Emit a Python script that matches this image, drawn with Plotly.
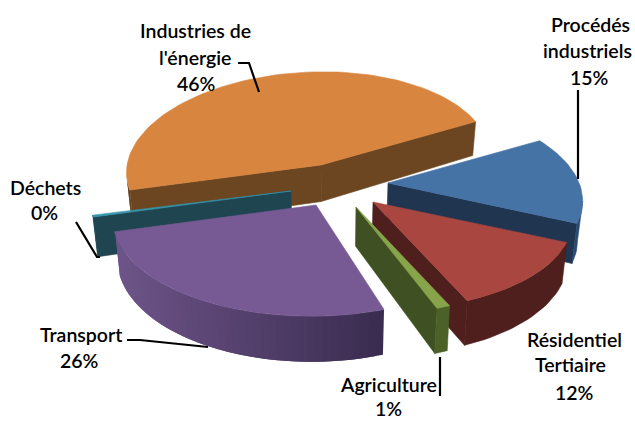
import math
import plotly.graph_objects as go

# ---- data ----
categories = ["Industries de l'énergie", "Procédés industriels", "Résidentiel Tertiaire",
              "Agriculture", "Transport", "Déchets"]
shares = [45.8, 15.0, 12.2, 1.0, 25.7, 0.3]
percent_labels = ["46%", "15%", "12%", "1%", "26%", "0%"]

# ---- style / layout ----
FIRST_ANGLE = 194.6
apex = [(321, 165), (388, 183), (373, 202), (356, 207), (316, 205), (291, 191)]
top_col = ["#D8853F", "#4673A6", "#A8463F", "#87A44A", "#775A94", "#3596AD"]
cut_col = ["#6B4620", "#1F3550", "#4E1F1C", "#3F5123", "#3A2C50", "#1F4550"]
wall_l = ["#5C3A1B", "#2B4A73", "#4E1F1C", "#4B6128", "#6E5589", "#1F4550"]
wall_r = ["#6B4620", "#2B4A73", "#4E1F1C", "#4B6128", "#3A2C50", "#1F4550"]
draw_order = [0, 5, 1, 2, 3, 4]
# perspective of each slice: A, B, C, D, G, H
shared = (197.5, -9.5, 0.5, -93.1, 0.014, 0.137)
persp = [
    (180.3, 15.0, 0.1, -93.0, 0.07, 0.0),
    (194.0, -9.5, 0.5, -93.1, 0.014, 0.137),
    (199.0, -9.5, 0.5, -93.1, 0.014, 0.137),
    shared,
    (198.0, 2.5, 0.5, -96.0, 0.014, 0.137),
    shared,
]


def project(deg, o, h):
    a, b, c_, d, g, k = h
    c, s = math.cos(math.radians(deg)), math.sin(math.radians(deg))
    w = 1 + g * c + k * s
    return (o[0] + (a * c + b * s) / w, o[1] + (c_ * c + d * s) / w)


def drop(p):
    x, y = p
    return (x + (330 - x) * 0.02, y + 34 + (y - 123) * 0.06)


def mix(c1, c2, t):
    a = [int(c1[i:i + 2], 16) for i in (1, 3, 5)]
    b = [int(c2[i:i + 2], 16) for i in (1, 3, 5)]
    return "rgb(%d,%d,%d)" % tuple(round(a[i] + (b[i] - a[i]) * t) for i in range(3))


def poly(fig, pts, col, lw=0.6):
    xs = [p[0] for p in pts] + [pts[0][0]]
    ys = [p[1] for p in pts] + [pts[0][1]]
    fig.add_trace(go.Scatter(x=xs, y=ys, mode="lines", fill="toself", fillcolor=col,
                             line=dict(color=col, width=lw), hoverinfo="skip", showlegend=False))


total = sum(shares)
starts = []
ang = FIRST_ANGLE
for v in shares:
    starts.append(ang)
    ang -= v / total * 360

fig = go.Figure()
for i in draw_order:
    a0 = starts[i]
    a1 = a0 - shares[i] / total * 360
    n = max(2, int(abs(a0 - a1) / 2) + 1)
    arc = [project(a0 + (a1 - a0) * k / n, apex[i], persp[i]) for k in range(n + 1)]
    o = apex[i]
    for p, q in ((o, arc[0]), (arc[-1], o)):
        if (q[0] - p[0]) < 0:
            poly(fig, [p, q, drop(q), drop(p)], cut_col[i])
    front = [k for k in range(n) if arc[k + 1][0] < arc[k][0]]
    if front:
        if wall_l[i] == wall_r[i]:
            run = [arc[k] for k in front] + [arc[front[-1] + 1]]
            poly(fig, run + [drop(p) for p in reversed(run)], wall_l[i])
        else:
            xmin = min(arc[k + 1][0] for k in front)
            xmax = max(arc[k][0] for k in front)
            for pos, k in enumerate(front):
                end = front[min(pos + 2, len(front) - 1)] + 1
                run = arc[k:end]
                t = (arc[k][0] - xmin) / max(1, xmax - xmin)
                poly(fig, run + [drop(p) for p in reversed(run)], mix(wall_l[i], wall_r[i], t), 0)
    poly(fig, [o] + arc, top_col[i])

leaders = [
    [(238, 63), (249, 63), (259, 92)],
    [(578, 90), (578, 179)],
    [(76, 222), (97, 257), (100, 257)],
    [(127, 340), (140, 340), (208, 347)],
    [(440, 357), (440, 396)],
]
for seg in leaders:
    fig.add_trace(go.Scatter(x=[p[0] for p in seg], y=[p[1] for p in seg], mode="lines",
                             line=dict(color="#000000", width=2.2), hoverinfo="skip", showlegend=False))

label_lines = [
    (["Industries de", "l'énergie", percent_labels[0]], [195, 195, 196], [30, 57, 83]),
    (["Procédés", "industriels", percent_labels[1]], [590, 587, 589], [24, 50, 77]),
    (["Résidentiel", "Tertiaire", percent_labels[2]], [574, 570, 574], [339, 364, 392]),
    (["Agriculture", percent_labels[3]], [388, 388], [384, 408.5]),
    (["Transport", percent_labels[4]], [81, 79], [334, 360]),
    (["Déchets", percent_labels[5]], [45, 44], [187, 212]),
]
anns = []
for lines, xs, ys in label_lines:
    for t, x, y in zip(lines, xs, ys):
        anns.append(dict(x=x, y=y, text=t, showarrow=False, xanchor="center", yanchor="middle",
                         font=dict(family="Lato", size=19.5, color="#000000", weight=600)))

fig.update_layout(
    width=635, height=421, margin=dict(l=0, r=0, t=0, b=0),
    paper_bgcolor="white", plot_bgcolor="white", showlegend=False, annotations=anns,
    xaxis=dict(range=[0, 635], visible=False, fixedrange=True),
    yaxis=dict(range=[421, 0], visible=False, fixedrange=True),
)
fig.write_html("out.html", config={"displayModeBar": False},
               post_script="document.body.style.margin='0';document.documentElement.style.overflow='hidden';")
